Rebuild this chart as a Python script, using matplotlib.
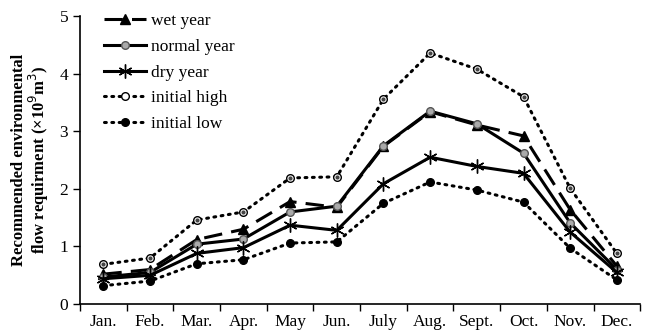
import matplotlib.pyplot as plt
import numpy as np

months = ["Jan.", "Feb.", "Mar.", "Apr.", "May", "Jun.",
          "July", "Aug.", "Sept.", "Oct.", "Nov.", "Dec."]

wet_year = [0.52, 0.60, 1.12, 1.30, 1.78, 1.68, 2.74, 3.34, 3.11, 2.92, 1.64, 0.66]
normal_year = [0.47, 0.55, 1.04, 1.13, 1.60, 1.70, 2.75, 3.35, 3.13, 2.62, 1.41, 0.60]
dry_year = [0.44, 0.50, 0.88, 0.98, 1.37, 1.28, 2.09, 2.55, 2.39, 2.27, 1.25, 0.55]
initial_high = [0.69, 0.80, 1.46, 1.60, 2.19, 2.21, 3.56, 4.36, 4.08, 3.60, 2.01, 0.88]
initial_low = [0.32, 0.40, 0.70, 0.77, 1.06, 1.08, 1.75, 2.12, 1.98, 1.77, 0.97, 0.42]

plt.rcParams["font.family"] = ["Liberation Serif", "DejaVu Serif"]

fig = plt.figure(figsize=(6.46, 3.36), dpi=100)
ax = fig.add_axes([0.124, 0.095, 0.867, 0.857])

x = np.arange(len(months))

ax.plot(x, wet_year, color="black", lw=2.2, dashes=(6, 3),
        marker="^", ms=7, mfc="black", mec="black", label="wet year")
ax.plot(x, normal_year, color="black", lw=2.2,
        marker="o", ms=5.5, mfc="#aaaaaa", mec="#555555", label="normal year")
ax.plot(x, dry_year, color="black", lw=2.2,
        marker=(6, 2, 0), ms=10, mec="black", mew=1.0, label="dry year")
ax.plot(x, initial_high, color="black", lw=2.2, ls=(0, (0.6, 1.8)),
        dash_capstyle="round",
        marker="o", ms=5.5, mfc="white", mec="black", mew=1.0, label="initial high")
ax.plot(x, initial_high, ls="none", marker="o", ms=2, color="#444444")
ax.plot(x, initial_low, color="black", lw=2.2, ls=(0, (0.6, 1.8)),
        dash_capstyle="round",
        marker="o", ms=5.5, mfc="black", mec="black", label="initial low")

ax.set_xlim(-0.5, len(months) - 0.5)
ax.set_ylim(0, 5)
ax.set_yticks([0, 1, 2, 3, 4, 5])
ax.set_xticks(np.arange(-0.5, len(months), 1.0))
ax.set_xticklabels([])
ax.set_xticks(x, minor=True)
ax.set_xticklabels(months, minor=True)
ax.tick_params(axis="x", which="minor", length=0, labelsize=12.5, pad=7)
ax.tick_params(axis="x", which="major", direction="out", length=5, width=1)
ax.tick_params(axis="y", direction="out", length=5, width=1, labelsize=12.5)

for side in ["top", "right"]:
    ax.spines[side].set_visible(False)
for side in ["left", "bottom"]:
    ax.spines[side].set_linewidth(1.2)

ax.set_ylabel("Recommended environmental\nflow requirment (\u00d710$^9$m$^3$)",
              fontsize=12, fontweight="bold", labelpad=6, linespacing=1.0)

ax.legend(loc="upper left", bbox_to_anchor=(0.015, 1.065), frameon=False,
          fontsize=12.5, handlelength=2.4, handletextpad=0.3,
          labelspacing=0.55)

fig.savefig("out.png", dpi=100)
